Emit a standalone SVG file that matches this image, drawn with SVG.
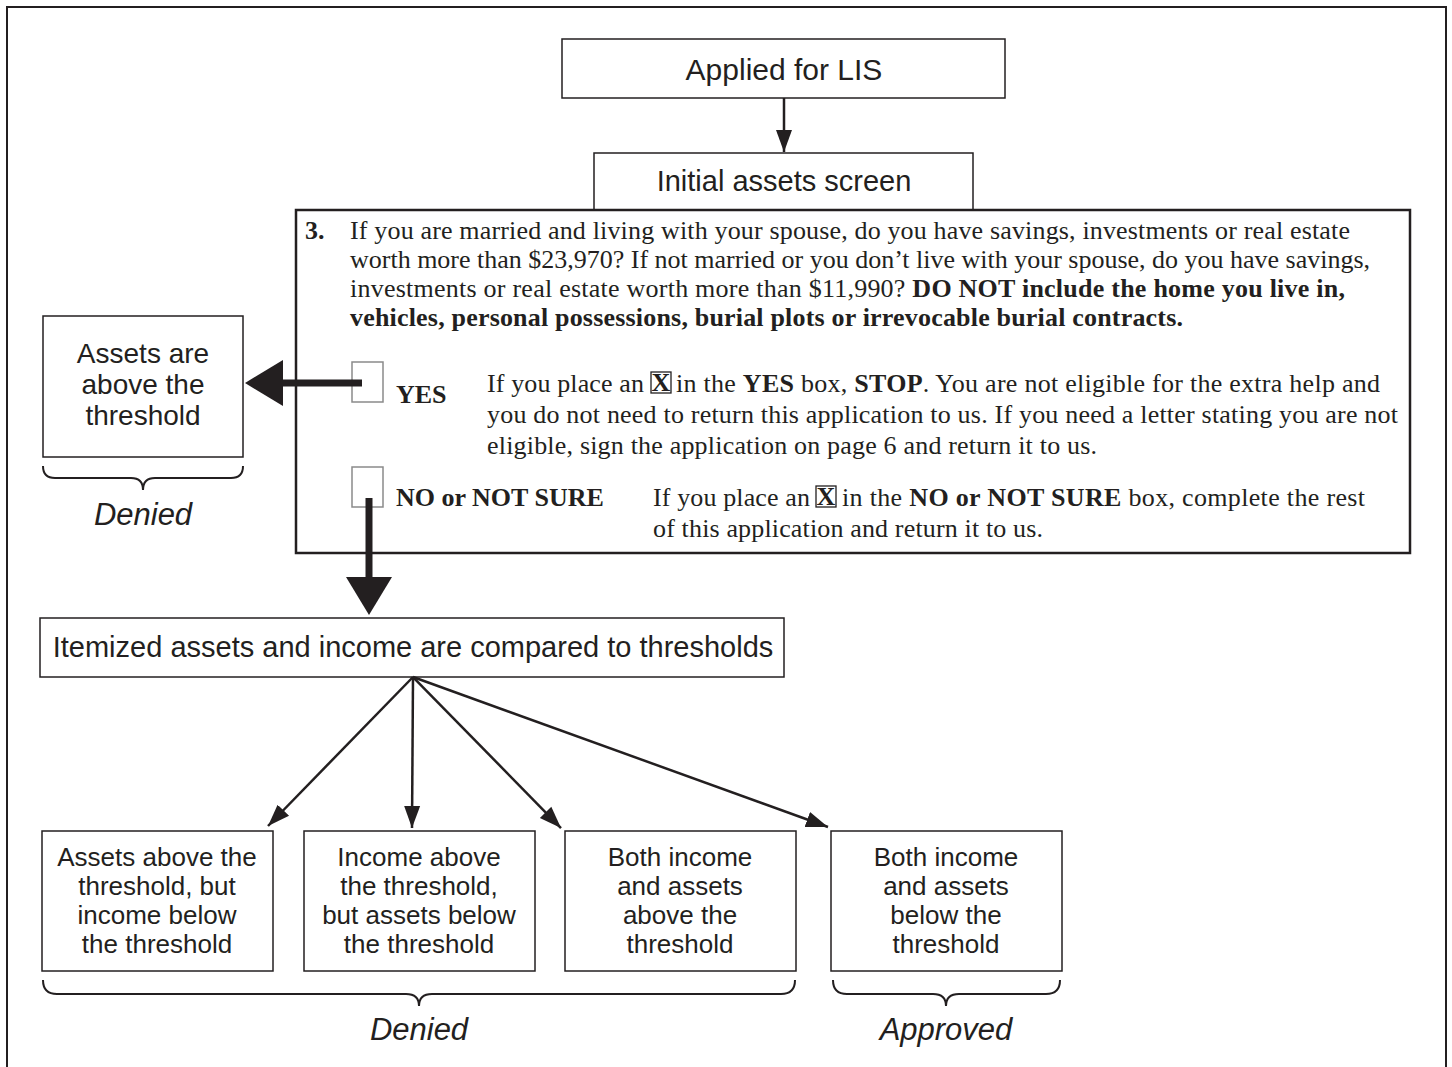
<svg xmlns="http://www.w3.org/2000/svg" width="1452" height="1067" viewBox="0 0 1452 1067">
<style>
.box{fill:#fff;stroke:#231f20;stroke-width:1.5}
.lbl{font-family:"Liberation Sans",Arial,sans-serif;fill:#231f20;text-anchor:middle}
.it{font-style:italic;font-size:31px}
.form{font-family:"Liberation Serif","Times New Roman",serif;font-size:26px;fill:#231f20}
.b{font-weight:bold}
.chk{fill:#fff;stroke:#8a8a8a;stroke-width:1.5}
.thin{stroke:#231f20;stroke-width:2.5;fill:none}
.brace{stroke:#231f20;stroke-width:2;fill:none}
</style>
<defs>
<marker id="ah" markerUnits="userSpaceOnUse" markerWidth="24" markerHeight="20" viewBox="0 0 24 20" refX="22" refY="10" orient="auto">
<path d="M0,2 L22,10 L0,18 Z" fill="#231f20"/>
</marker>
</defs>
<rect x="0" y="0" width="1452" height="1067" fill="#fff"/>
<path d="M7,1067 V7 H1446 V1067" fill="none" stroke="#231f20" stroke-width="2"/>

<g id="applied">
<rect class="box" x="562" y="39" width="443" height="59"/>
<text class="lbl" x="784" y="80" font-size="30">Applied for LIS</text>
</g>

<g id="initial">
<rect class="box" x="594" y="153" width="379" height="57"/>
<text class="lbl" x="784" y="191" font-size="29">Initial assets screen</text>
</g>

<g id="form">
<rect x="296" y="210" width="1114" height="343" fill="#fff" stroke="#231f20" stroke-width="2.5"/>
<text class="form b" x="305" y="239">3.</text>
<text class="form" x="350" y="239" textLength="1000" lengthAdjust="spacing">If you are married and living with your spouse, do you have savings, investments or real estate</text>
<text class="form" x="350" y="268" textLength="1020" lengthAdjust="spacing">worth more than $23,970? If not married or you don’t live with your spouse, do you have savings,</text>
<text class="form" x="350" y="297" textLength="995" lengthAdjust="spacing">investments or real estate worth more than $11,990? <tspan class="b">DO NOT include the home you live in,</tspan></text>
<text class="form b" x="350" y="326" textLength="833" lengthAdjust="spacing">vehicles, personal possessions, burial plots or irrevocable burial contracts.</text>
<rect class="chk" x="352" y="362" width="31" height="40"/>
<text class="form b" x="396" y="403">YES</text>
<text class="form" x="487" y="392" textLength="157" lengthAdjust="spacing">If you place an</text>
<rect x="651" y="372" width="20" height="21" fill="none" stroke="#231f20" stroke-width="1.3"/>
<text class="form b" x="661" y="391" text-anchor="middle" font-size="21">X</text>
<text class="form" x="676" y="392" textLength="704" lengthAdjust="spacing">in the <tspan class="b">YES</tspan> box, <tspan class="b">STOP</tspan>. You are not eligible for the extra help and</text>
<text class="form" x="487" y="423" textLength="911" lengthAdjust="spacing">you do not need to return this application to us. If you need a letter stating you are not</text>
<text class="form" x="487" y="454" textLength="610" lengthAdjust="spacing">eligible, sign the application on page 6 and return it to us.</text>
<rect class="chk" x="352" y="467" width="31" height="40"/>
<text class="form b" x="396" y="506">NO or NOT SURE</text>
<text class="form" x="653" y="506" textLength="157" lengthAdjust="spacing">If you place an</text>
<rect x="816" y="486" width="20" height="21" fill="none" stroke="#231f20" stroke-width="1.3"/>
<text class="form b" x="826" y="505" text-anchor="middle" font-size="21">X</text>
<text class="form" x="842" y="506" textLength="523" lengthAdjust="spacing">in the <tspan class="b">NO or NOT SURE</tspan> box, complete the rest</text>
<text class="form" x="653" y="537" textLength="390" lengthAdjust="spacing">of this application and return it to us.</text>
</g>

<g id="assets-above">
<rect class="box" x="43" y="316" width="200" height="141"/>
<text class="lbl" x="143" y="363" font-size="28">Assets are</text>
<text class="lbl" x="143" y="394" font-size="28">above the</text>
<text class="lbl" x="143" y="425" font-size="28">threshold</text>
<path class="brace" d="M43,466 Q43,478 55,478 L131,478 Q143,478 143,490 Q143,478 155,478 L231,478 Q243,478 243,466"/>
<text class="lbl it" x="143" y="525">Denied</text>
</g>

<g id="itemized">
<rect class="box" x="40" y="618" width="744" height="59"/>
<text class="lbl" x="413" y="657" font-size="29">Itemized assets and income are compared to thresholds</text>
</g>

<g id="box1">
<rect class="box" x="42" y="831" width="231" height="140"/>
<text class="lbl" x="157" y="866" font-size="26">Assets above the</text>
<text class="lbl" x="157" y="895" font-size="26">threshold, but</text>
<text class="lbl" x="157" y="924" font-size="26">income below</text>
<text class="lbl" x="157" y="953" font-size="26">the threshold</text>
</g>
<g id="box2">
<rect class="box" x="304" y="831" width="231" height="140"/>
<text class="lbl" x="419" y="866" font-size="26">Income above</text>
<text class="lbl" x="419" y="895" font-size="26">the threshold,</text>
<text class="lbl" x="419" y="924" font-size="26">but assets below</text>
<text class="lbl" x="419" y="953" font-size="26">the threshold</text>
</g>
<g id="box3">
<rect class="box" x="565" y="831" width="231" height="140"/>
<text class="lbl" x="680" y="866" font-size="26">Both income</text>
<text class="lbl" x="680" y="895" font-size="26">and assets</text>
<text class="lbl" x="680" y="924" font-size="26">above the</text>
<text class="lbl" x="680" y="953" font-size="26">threshold</text>
</g>
<g id="box4">
<rect class="box" x="831" y="831" width="231" height="140"/>
<text class="lbl" x="946" y="866" font-size="26">Both income</text>
<text class="lbl" x="946" y="895" font-size="26">and assets</text>
<text class="lbl" x="946" y="924" font-size="26">below the</text>
<text class="lbl" x="946" y="953" font-size="26">threshold</text>
</g>

<g id="outcomes">
<path class="brace" d="M43,980 Q43,994 57,994 L406,994 Q419,994 419,1006 Q419,994 432,994 L781,994 Q795,994 795,980"/>
<text class="lbl it" x="419" y="1040">Denied</text>
<path class="brace" d="M833,980 Q833,994 847,994 L933,994 Q946,994 946,1006 Q946,994 959,994 L1046,994 Q1060,994 1060,980"/>
<text class="lbl it" x="946" y="1040">Approved</text>
</g>

<g id="connectors">
<line class="thin" x1="784" y1="98" x2="784" y2="152" marker-end="url(#ah)"/>
<line x1="362" y1="383" x2="282" y2="383" stroke="#231f20" stroke-width="7"/>
<polygon points="245,383 283,360 283,406" fill="#231f20"/>
<line x1="369" y1="498" x2="369" y2="580" stroke="#231f20" stroke-width="7"/>
<polygon points="369,615 346,577 392,577" fill="#231f20"/>
<line class="thin" x1="413" y1="677" x2="268" y2="826" marker-end="url(#ah)"/>
<line class="thin" x1="413" y1="677" x2="412" y2="828" marker-end="url(#ah)"/>
<line class="thin" x1="413" y1="677" x2="561" y2="828" marker-end="url(#ah)"/>
<line class="thin" x1="413" y1="677" x2="828" y2="827" marker-end="url(#ah)"/>
</g>
</svg>
